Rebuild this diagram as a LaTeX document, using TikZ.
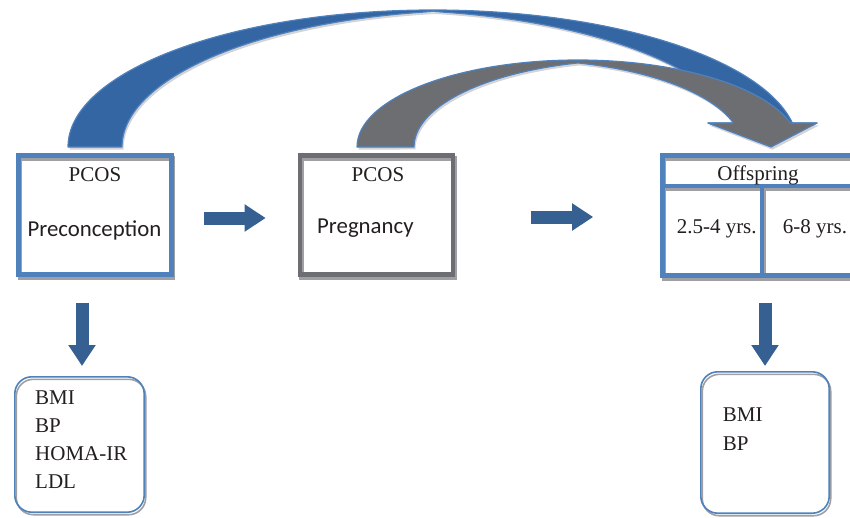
\documentclass[tikz,border=0pt]{standalone}
\usepackage{fontspec}
\setmainfont{Liberation Serif}
\newfontfamily\calibrifont{Carlito}
\usetikzlibrary{arrows.meta, positioning}
\definecolor{frameblue}{RGB}{79,129,189}
\definecolor{framegray}{RGB}{109,110,113}
\definecolor{arcblue}{RGB}{52,102,164}
\definecolor{arrowblue}{RGB}{54,96,146}
\definecolor{shadowgray}{RGB}{160,160,164}
\definecolor{lightshadow}{RGB}{212,212,214}
\definecolor{textblack}{RGB}{35,31,32}

\begin{document}
\begin{tikzpicture}[x=1pt, y=-1pt,
  stagebox/.style={rectangle, draw=#1, line width=4.7pt, inner sep=0pt,
                   preaction={draw=shadowgray, transform canvas={shift={(1.5pt,-3pt)}}}},
  stagebox/.default=frameblue,
  resultbox/.style={rectangle, rounded corners=17pt, draw=frameblue, line width=1.6pt,
                    preaction={draw=shadowgray, transform canvas={shift={(1.5pt,-2.5pt)}}}},
  curvearrow/.style={draw=frameblue, line width=1.2pt, line join=round,
                     preaction={fill=lightshadow, transform canvas={shift={(1.5pt,-2.5pt)}}}},
  blockarrow/.style={arrowblue, line width=13pt, -{Triangle[length=21pt, width=26pt]}},
  seriftext/.style={font=\fontsize{21}{28.3}\selectfont, text=textblack, inner sep=0pt},
  sanstext/.style={font=\calibrifont\fontsize{22.8}{27}\selectfont, text=textblack, inner sep=0pt}
]
  \useasboundingbox (0,0) rectangle (850,517);

  % long arc: preconception -> offspring
  \path[curvearrow, fill=arcblue] (68,147)
    arc[start angle=180, end angle=349.91, x radius=365, y radius=137]
    -- (817,123) -- (771,147) -- (708,123) -- (738.35,123)
    arc[start angle=349.91, end angle=278.51, x radius=365, y radius=137]
    arc[start angle=261.49, end angle=180, x radius=365, y radius=137] -- cycle;
  % short arc: pregnancy -> offspring
  \path[curvearrow, fill=framegray] (357,147)
    arc[start angle=180, end angle=343.99, x radius=221, y radius=87]
    -- (817,123) -- (771,147) -- (708,123) -- (733.43,123)
    arc[start angle=343.99, end angle=284.95, x radius=221, y radius=87]
    arc[start angle=255.05, end angle=180, x radius=221, y radius=87] -- cycle;

  \node[stagebox, minimum width=153, minimum height=119.3] (pre) at (95,215) {};
  \node[stagebox=framegray, minimum width=153, minimum height=119.3] (preg) at (376.5,215) {};
  \node[stagebox, minimum width=199.5, minimum height=30.5] (offhead) at (762.25,170.75) {};
  \node[stagebox, minimum width=99.5, minimum height=89.5] (early) at (712.25,230.75) {};
  \node[stagebox, minimum width=99.5, minimum height=89.5] (late) at (811.75,230.75) {};

  \node[seriftext, anchor=base] (pretitle) at (95,181.5) {PCOS};
  \node[sanstext, anchor=base] (prename) at (94.5,236) {Preconception};
  \node[seriftext, anchor=base] (pregtitle) at (378,181.5) {PCOS};
  \node[sanstext, anchor=base west] (pregname) at (317,233) {Pregnancy};
  \node[seriftext, anchor=base] (offtitle) at (758,180) {Offspring};
  \node[seriftext, anchor=base] (earlyage) at (716.7,233.3) {2.5-4 yrs.};
  \node[seriftext, anchor=base] (lateage) at (815,233.3) {6-8 yrs.};

  \node[resultbox, minimum width=129.4, minimum height=135.4] (preout) at (79.5,444.5) {};
  \node[resultbox, minimum width=128.4, minimum height=141.4] (postout) at (765,442.5) {};

  % outcome lists
  \node[seriftext, text width=110pt, align=left, anchor=base west] (prelist) at (35,404)
    {BMI\\BP\\HOMA-IR\\LDL};
  \node[seriftext, text width=90pt, align=left, anchor=base west] (postlist) at (722.7,421.7)
    {BMI\\BP};

  \draw[blockarrow, shorten <=30pt, shorten >=32pt] ([yshift=-3pt]pre.east) -- ([yshift=-3pt]preg.west);
  \draw[blockarrow, shorten <=76pt, shorten >=67pt] ([yshift=-2pt]preg.east) -- ([yshift=-2pt]preg.east -| early.west);
  \draw[blockarrow, shorten <=25.7pt, shorten >=10pt] ([xshift=-13pt]pre.south) -- ([xshift=-13pt]pre.south |- preout.north);
  \draw[blockarrow, shorten <=25pt, shorten >=5pt] (postout.north |- late.south) -- (postout.north);
\end{tikzpicture}
\end{document}
